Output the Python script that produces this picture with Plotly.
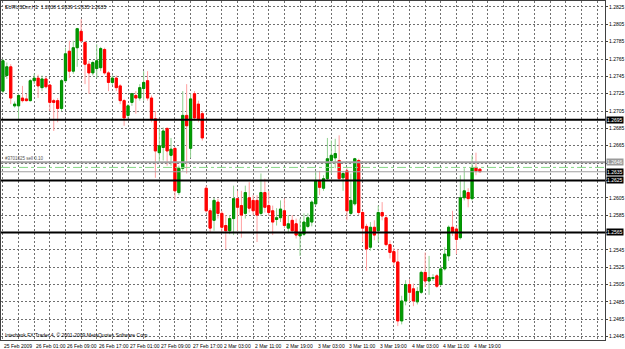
import plotly.graph_objects as go

# ---------------- data (EURUSDm H1) ----------------
bar_idx = list(range(-8, 115))

open_ = [1.2728, 1.2746, 1.2756, 1.2711, 1.2711, 1.2720, 1.2719, 1.2717,
         1.2740, 1.2743, 1.2732, 1.2742, 1.2735, 1.2717, 1.2717, 1.2708, 1.2740, 1.2774,
         1.2751, 1.2778, 1.2797, 1.2784, 1.2759, 1.2749, 1.2754, 1.2755, 1.2776, 1.2749,
         1.2738, 1.2743, 1.2734, 1.2717, 1.2700, 1.2715, 1.2723, 1.2720, 1.2731, 1.2740,
         1.2720, 1.2696, 1.2657, 1.2663, 1.2685, 1.2654, 1.2662, 1.2611, 1.2639, 1.2700,
         1.2662, 1.2725, 1.2713, 1.2702, 1.2616, 1.2590, 1.2579, 1.2600, 1.2587, 1.2573,
         1.2567, 1.2581, 1.2604, 1.2596, 1.2587, 1.2605, 1.2602, 1.2602, 1.2587, 1.2611,
         1.2596, 1.2590, 1.2580, 1.2582, 1.2590, 1.2570, 1.2579, 1.2575, 1.2561, 1.2563,
         1.2572, 1.2577, 1.2598, 1.2625, 1.2616, 1.2627, 1.2648, 1.2651, 1.2648, 1.2628,
         1.2636, 1.2587, 1.2598, 1.2648, 1.2588, 1.2572, 1.2548, 1.2571, 1.2567, 1.2588,
         1.2582, 1.2551, 1.2543, 1.2531, 1.2463, 1.2486, 1.2505, 1.2500, 1.2485, 1.2496,
         1.2519, 1.2509, 1.2512, 1.2515, 1.2505, 1.2523, 1.2538, 1.2571, 1.2569, 1.2559,
         1.2605, 1.2611, 1.2604, 1.2640, 1.2638]

high = [1.2765, 1.2761, 1.2759, 1.2716, 1.2725, 1.2734, 1.2725, 1.2742,
        1.2748, 1.2747, 1.2746, 1.2745, 1.2736, 1.2719, 1.2720, 1.2742, 1.2778, 1.2786,
        1.2786, 1.2801, 1.2811, 1.2786, 1.2763, 1.2763, 1.2782, 1.2779, 1.2778, 1.2751,
        1.2746, 1.2746, 1.2736, 1.2719, 1.2713, 1.2726, 1.2728, 1.2736, 1.2751, 1.2751,
        1.2723, 1.2705, 1.2686, 1.2686, 1.2686, 1.2674, 1.2663, 1.2642, 1.2728, 1.2736,
        1.2725, 1.2728, 1.2717, 1.2705, 1.2619, 1.2593, 1.2605, 1.2604, 1.2590, 1.2585,
        1.2585, 1.2619, 1.2613, 1.2613, 1.2619, 1.2623, 1.2608, 1.2608, 1.2633, 1.2627,
        1.2613, 1.2596, 1.2593, 1.2602, 1.2604, 1.2585, 1.2585, 1.2581, 1.2581, 1.2587,
        1.2587, 1.2602, 1.2636, 1.2636, 1.2631, 1.2674, 1.2671, 1.2673, 1.2677, 1.2636,
        1.2639, 1.2633, 1.2651, 1.2650, 1.2590, 1.2575, 1.2577, 1.2579, 1.2596, 1.2600,
        1.2585, 1.2556, 1.2547, 1.2546, 1.2492, 1.2510, 1.2511, 1.2506, 1.2502, 1.2521,
        1.2542, 1.2538, 1.2517, 1.2517, 1.2526, 1.2548, 1.2573, 1.2590, 1.2572, 1.2631,
        1.2639, 1.2616, 1.2654, 1.2657, 1.2639]

low = [1.2726, 1.2742, 1.2713, 1.2709, 1.2694, 1.2715, 1.2716, 1.2716,
       1.2736, 1.2720, 1.2728, 1.2731, 1.2705, 1.2682, 1.2692, 1.2705, 1.2738, 1.2743,
       1.2748, 1.2756, 1.2784, 1.2736, 1.2725, 1.2746, 1.2743, 1.2751, 1.2747, 1.2728,
       1.2735, 1.2728, 1.2713, 1.2688, 1.2696, 1.2711, 1.2702, 1.2717, 1.2717, 1.2717,
       1.2692, 1.2628, 1.2646, 1.2648, 1.2642, 1.2642, 1.2602, 1.2608, 1.2636, 1.2633,
       1.2651, 1.2694, 1.2692, 1.2671, 1.2588, 1.2565, 1.2567, 1.2581, 1.2565, 1.2546,
       1.2563, 1.2562, 1.2567, 1.2559, 1.2581, 1.2588, 1.2585, 1.2554, 1.2584, 1.2588,
       1.2584, 1.2562, 1.2573, 1.2577, 1.2570, 1.2564, 1.2564, 1.2558, 1.2538, 1.2561,
       1.2570, 1.2572, 1.2596, 1.2608, 1.2613, 1.2625, 1.2633, 1.2639, 1.2625, 1.2613,
       1.2579, 1.2585, 1.2596, 1.2585, 1.2554, 1.2521, 1.2544, 1.2556, 1.2554, 1.2579,
       1.2549, 1.2535, 1.2527, 1.2457, 1.2459, 1.2481, 1.2485, 1.2480, 1.2482, 1.2494,
       1.2502, 1.2493, 1.2509, 1.2501, 1.2503, 1.2521, 1.2532, 1.2561, 1.2540, 1.2557,
       1.2602, 1.2594, 1.2602, 1.2631, 1.2635]

close = [1.2763, 1.2756, 1.2720, 1.2713, 1.2723, 1.2717, 1.2717, 1.2740,
         1.2743, 1.2734, 1.2742, 1.2733, 1.2715, 1.2715, 1.2708, 1.2740, 1.2771, 1.2751,
         1.2778, 1.2800, 1.2786, 1.2759, 1.2749, 1.2761, 1.2763, 1.2777, 1.2749, 1.2738,
         1.2743, 1.2732, 1.2717, 1.2697, 1.2711, 1.2725, 1.2720, 1.2732, 1.2738, 1.2720,
         1.2696, 1.2659, 1.2665, 1.2682, 1.2659, 1.2661, 1.2613, 1.2639, 1.2700, 1.2688,
         1.2719, 1.2697, 1.2696, 1.2674, 1.2590, 1.2570, 1.2602, 1.2587, 1.2571, 1.2567,
         1.2581, 1.2604, 1.2594, 1.2585, 1.2611, 1.2593, 1.2590, 1.2585, 1.2611, 1.2594,
         1.2588, 1.2577, 1.2582, 1.2592, 1.2573, 1.2575, 1.2567, 1.2562, 1.2565, 1.2577,
         1.2582, 1.2600, 1.2625, 1.2617, 1.2627, 1.2650, 1.2654, 1.2656, 1.2627, 1.2633,
         1.2590, 1.2602, 1.2650, 1.2588, 1.2570, 1.2546, 1.2571, 1.2562, 1.2588, 1.2584,
         1.2551, 1.2542, 1.2531, 1.2463, 1.2486, 1.2505, 1.2496, 1.2486, 1.2497, 1.2519,
         1.2509, 1.2513, 1.2513, 1.2503, 1.2523, 1.2540, 1.2571, 1.2565, 1.2557, 1.2605,
         1.2613, 1.2604, 1.2640, 1.2636, 1.2635]

# time axis labels (bar index -> label)
time_label_pos = [0, 8, 16, 24, 32, 40, 48, 56, 64, 72, 80, 88, 96, 104, 112]
time_labels = ["26 Feb 01:00", "26 Feb 09:00", "26 Feb 17:00", "27 Feb 01:00",
               "27 Feb 09:00", "27 Feb 17:00", "2 Mar 03:00", "2 Mar 11:00",
               "2 Mar 19:00", "3 Mar 03:00", "3 Mar 11:00", "3 Mar 19:00",
               "4 Mar 03:00", "4 Mar 11:00", "4 Mar 19:00"]
first_label = "25 Feb 2009"

# price grid; labels hidden where a boxed level label covers them
price_ticks = [1.2445, 1.2465, 1.2485, 1.2505, 1.2525, 1.2545, 1.2565, 1.2585,
               1.2605, 1.2625, 1.2645, 1.2665, 1.2685, 1.2705, 1.2725, 1.2745,
               1.2765, 1.2785, 1.2805, 1.2825]
price_tick_text = ["1.2445", "1.2465", "1.2485", "1.2505", "1.2525", "1.2545", "",
                   "1.2585", "1.2605", "", "", "1.2665", "1.2685", "1.2705",
                   "1.2725", "1.2745", "1.2765", "1.2785", "1.2805", "1.2825"]

grid_bars = list(range(-8, 148, 4))

black_levels = [1.2695, 1.2625, 1.2565]
order_level = 1.2646
order_text = "#3701025 sell 0.10"
pending_level = 1.2640
bid_level = 1.2635
title_text = "EURUSDm,H1  1.2638 1.2639 1.2635 1.2635"
copyright_text = "Interbank FX Trader 4, © 2001-2009 MetaQuotes Software Corp."

# ---------------- figure ----------------
FONT = "Liberation Sans"
body_high = [max(o, c) for o, c in zip(open_, close)]
body_low = [min(o, c) for o, c in zip(open_, close)]

fig = go.Figure()
# wicks (pale)
fig.add_trace(go.Candlestick(
    x=bar_idx, open=open_, high=high, low=low, close=close,
    increasing=dict(line=dict(color="#8fd08f", width=1), fillcolor="#8fd08f"),
    decreasing=dict(line=dict(color="#ff9f9f", width=1), fillcolor="#ff9f9f"),
    whiskerwidth=0, hoverinfo="skip", showlegend=False))
# bodies (solid)
fig.add_trace(go.Candlestick(
    x=bar_idx, open=open_, high=body_high, low=body_low, close=close,
    increasing=dict(line=dict(color="#008c00", width=1), fillcolor="#00a000"),
    decreasing=dict(line=dict(color="#ff0000", width=1), fillcolor="#ff0000"),
    whiskerwidth=0, hoverinfo="skip", showlegend=False))

shapes = []
for lv in black_levels:
    shapes.append(dict(type="line", xref="paper", x0=0, x1=1, yref="y", y0=lv, y1=lv,
                       line=dict(color="black", width=2)))
shapes.append(dict(type="line", xref="paper", x0=0, x1=1, yref="y", y0=order_level, y1=order_level,
                   line=dict(color="#a0a0a0", width=2)))
shapes.append(dict(type="line", xref="paper", x0=0, x1=1, yref="y", y0=pending_level, y1=pending_level,
                   line=dict(color="#88d888", width=1, dash="dashdot")))
shapes.append(dict(type="line", xref="paper", x0=0, x1=1, yref="y", y0=bid_level, y1=bid_level,
                   line=dict(color="#a0a0a0", width=1)))

annotations = []
# time labels
annotations.append(dict(x=-8.3, y=0, xref="x", yref="paper", text=first_label, showarrow=False,
                        xanchor="left", yanchor="top", yshift=-1,
                        font=dict(size=5, color="black", family=FONT)))
for pos, lab in zip(time_label_pos, time_labels):
    annotations.append(dict(x=pos, y=0, xref="x", yref="paper", text=lab, showarrow=False,
                            xanchor="left", yanchor="top", yshift=-1,
                            font=dict(size=5, color="black", family=FONT)))
# boxed price labels of the drawn levels
for lv, bg, fg in [(1.2695, "black", "white"), (1.2625, "black", "white"),
                   (1.2565, "black", "white"), (bid_level, "black", "white"),
                   (order_level, "#9a9a9a", "white")]:
    annotations.append(dict(x=1, y=lv, xref="paper", yref="y", text=f"{lv:.4f}", showarrow=False,
                            xanchor="left", yanchor="middle", xshift=1, bgcolor=bg, borderpad=0,
                            font=dict(size=5, color=fg, family=FONT)))
annotations.append(dict(x=0, y=1, xref="paper", yref="paper", text=title_text, showarrow=False,
                        xanchor="left", yanchor="top", xshift=2, yshift=-1,
                        font=dict(size=5, color="black", family=FONT)))
annotations.append(dict(x=0, y=0, xref="paper", yref="paper", text=copyright_text, showarrow=False,
                        xanchor="left", yanchor="bottom", xshift=2, yshift=0,
                        font=dict(size=5, color="black", family=FONT)))
annotations.append(dict(x=0, y=order_level, xref="paper", yref="y", text=order_text, showarrow=False,
                        xanchor="left", yanchor="bottom", xshift=2, yshift=-1,
                        font=dict(size=4.5, color="#555555", family=FONT)))

fig.update_layout(
    width=625, height=349,
    margin=dict(l=0, r=19, t=0, b=9),
    paper_bgcolor="white", plot_bgcolor="white",
    shapes=shapes, annotations=annotations,
    boxgap=0.2,
    xaxis=dict(range=[-8.49, 146.0], tickvals=grid_bars, showticklabels=False,
               showgrid=True, gridcolor="#707070", griddash="2px,2px", gridwidth=1,
               rangeslider=dict(visible=False), zeroline=False,
               showline=True, linecolor="#404040", linewidth=1, mirror=True, ticks=""),
    yaxis=dict(range=[1.24410, 1.28319], side="right", tickvals=price_ticks,
               ticktext=price_tick_text, showgrid=True, gridcolor="#707070",
               griddash="2px,2px", gridwidth=1, zeroline=False,
               tickfont=dict(size=5, color="black", family=FONT),
               showline=True, linecolor="#404040", linewidth=1, mirror=True,
               ticks="outside", ticklen=2, tickcolor="#404040"),
    font=dict(family=FONT, size=5),
)

fig.write_html("out.html")
